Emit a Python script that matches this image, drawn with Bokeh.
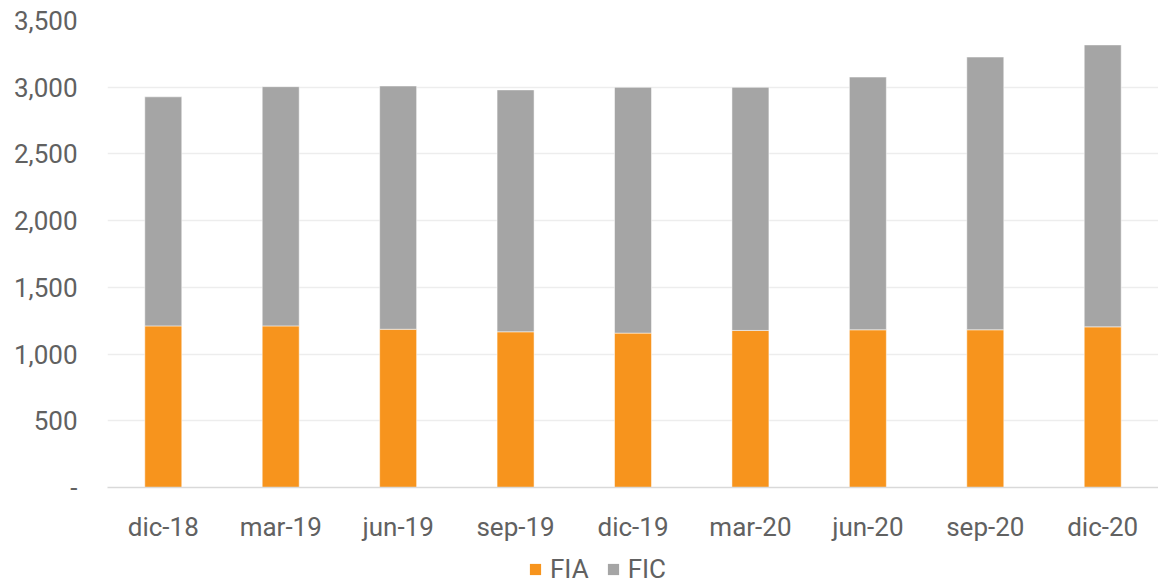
from bokeh.plotting import figure
from bokeh.layouts import column
from bokeh.models import ColumnDataSource, Range1d, FixedTicker, NumeralTickFormatter, Legend, LegendItem, FactorRange
from bokeh.embed import file_html
from bokeh.resources import INLINE

categories = ["dic-18", "mar-19", "jun-19", "sep-19", "dic-19", "mar-20", "jun-20", "sep-20", "dic-20"]
fia = [1211, 1211, 1186, 1167, 1157, 1177, 1182, 1182, 1204]
fic = [1717, 1793, 1823, 1813, 1842, 1822, 1894, 2044, 2113]
series_names = ["FIA", "FIC"]
y_ticks = [0, 500, 1000, 1500, 2000, 2500, 3000, 3500]

ORANGE = "#F7941D"
GRAY = "#A5A5A5"
TEXT = "#616161"
FONT = "Roboto"
COLORS = [ORANGE, GRAY]

src = ColumnDataSource(dict(cat=categories, FIA=fia, FIC=fic))

p = figure(x_range=FactorRange(*categories, range_padding=-0.025, range_padding_units="absolute"),
           y_range=Range1d(0, 3500), width=1158, height=544,
           output_backend="svg", toolbar_location=None,
           min_border_left=107, min_border_right=0, min_border_top=20, min_border_bottom=51)

rs = p.vbar_stack(series_names, x="cat", width=0.315, color=COLORS, source=src,
                  line_color="white", line_width=1, line_alpha=0.5)

p.outline_line_color = None
p.background_fill_color = "white"
p.border_fill_color = "white"

p.xgrid.grid_line_color = None
p.ygrid.grid_line_color = "#EDEDED"
p.ygrid.grid_line_width = 1.5

p.yaxis.ticker = FixedTicker(ticks=y_ticks)
p.yaxis.formatter = NumeralTickFormatter(format="0,0")
p.yaxis.major_label_overrides = {0: "-"}
p.yaxis.axis_line_color = None
p.yaxis.major_tick_line_color = None
p.yaxis.minor_tick_line_color = None
p.yaxis.major_tick_out = 0
p.yaxis.major_label_standoff = 30

p.xaxis.axis_line_color = "#D9D9D9"
p.xaxis.axis_line_width = 1.5
p.xaxis.major_tick_line_color = None
p.xaxis.minor_tick_line_color = None
p.xaxis.major_label_standoff = 18

for ax in (p.xaxis[0], p.yaxis[0]):
    ax.major_label_text_font = FONT
    ax.major_label_text_font_size = "26px"
    ax.major_label_text_color = TEXT

# legend strip below the chart (its zero-width bars are never visible)
pl = figure(width=1158, height=40, output_backend="svg", toolbar_location=None,
            x_range=FactorRange(*categories), y_range=Range1d(-2, -1),
            min_border_left=0, min_border_right=0, min_border_top=0, min_border_bottom=0)
pl.axis.visible = False
pl.grid.visible = False
pl.outline_line_color = None
pl.background_fill_color = "white"
pl.border_fill_color = "white"
leg_renderers = [pl.vbar(x="cat", top=n, width=0, fill_color=c, line_color=None, source=src)
                 for n, c in zip(series_names, COLORS)]

legend = Legend(items=[LegendItem(label=n, renderers=[r]) for n, r in zip(series_names, leg_renderers)],
                orientation="horizontal", location=(421, 0),
                glyph_width=14, glyph_height=14, label_standoff=8, spacing=17,
                label_text_font=FONT, label_text_font_size="26px", label_text_color=TEXT,
                border_line_color=None, background_fill_alpha=0,
                padding=0, margin=0)
pl.add_layout(legend)

layout = column(p, pl, spacing=0)
open("out.html", "w").write(file_html(layout, INLINE))
